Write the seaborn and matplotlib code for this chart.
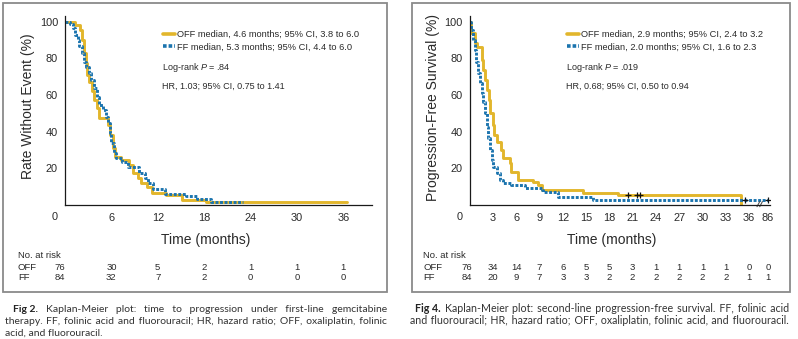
import matplotlib
matplotlib.use("Agg")
import matplotlib.pyplot as plt
import seaborn as sns
import pandas as pd
import numpy as np
from matplotlib.transforms import blended_transform_factory
from matplotlib.patches import Rectangle

# ---------------- data ----------------
# Fig 2 (left): time to progression, step curves (time in months, % without event)
L_off_t = [0, 1.35, 1.9, 2.2, 2.5, 2.7, 2.9, 3.15, 3.5, 3.8, 4.2, 4.45, 5.5, 5.8, 6.15, 6.5,
           7.25, 8.3, 8.75, 9.4, 9.85, 10.6, 11.3, 13.1, 15.2, 18.3, 36.5]
L_off_s = [100, 98.4, 95.6, 90, 83, 77.5, 71, 67.3, 62, 57, 53, 47.4, 43.5, 38, 31, 26,
           24.4, 21.6, 17, 14.5, 11.8, 9.5, 6.5, 5.2, 2.6, 1.3, 1.3]
L_ff_t = [0, 0.6, 1.0, 1.35, 1.65, 1.86, 2.2, 2.4, 2.7, 3.05, 3.4, 3.8, 4.2, 4.45, 4.9, 5.3,
          5.5, 5.85, 6.0, 6.3, 6.6, 7.4, 8.2, 9.6, 10.3, 10.7, 11.35, 12.9, 15.7, 17.1, 18.9, 23.0]
L_ff_s = [100, 99, 96.5, 93, 90, 87, 83, 78, 75.5, 72, 68, 64, 59, 54.6, 51.8, 48,
          44.6, 39, 33.6, 28, 25.5, 23.5, 20.7, 17, 14.5, 11.6, 8.5, 5.6, 4.7, 2.8, 1.2, 1.2]

# Fig 4 (right): second-line progression-free survival
R_off_t = [0, 0.25, 0.7, 1.0, 1.55, 1.7, 2.0, 2.3, 2.5, 2.7, 3.0, 3.15, 3.5, 4.1, 4.3, 5.2,
           5.4, 6.25, 8.2, 8.8, 9.3, 14.6, 19.1, 35.0, 35.0]
R_off_s = [100, 94, 88.5, 86.5, 79, 73.7, 68, 62.7, 57, 50, 43.5, 38, 34.4, 30, 25.3, 22.6,
           18, 13.4, 12.5, 10.7, 8, 6.5, 5.2, 0, 0]
R_ff_t = [0, 0.25, 0.45, 0.7, 0.9, 1.1, 1.3, 1.55, 1.75, 2.0, 2.2, 2.4, 2.6, 2.85, 3.05, 3.5,
          3.9, 4.3, 5.4, 7.1, 9.3, 9.5, 11.4, 15.9, 86]
R_ff_s = [100, 95.6, 90, 84.7, 78, 72, 66.5, 61, 56, 50, 42.6, 36.4, 30, 24.4, 20.7, 17,
          13.4, 11.6, 10.7, 8.9, 8, 7, 4.3, 2.2, 2.2]
R_cens_t = [20.4, 21.6, 22.0, 35.4, 86]
R_cens_s = [5.2, 5.2, 5.2, 2.2, 2.2]

L_ticks = [6, 12, 18, 24, 30, 36]
R_ticks = [3, 6, 9, 12, 15, 18, 21, 24, 27, 30, 33, 36, 86]
L_risk_t = [0, 6, 12, 18, 24, 30, 36]
L_risk_off = [76, 30, 5, 2, 1, 1, 1]
L_risk_ff = [84, 32, 7, 2, 0, 0, 0]
R_risk_t = [0, 3, 6, 9, 12, 15, 18, 21, 24, 27, 30, 33, 36, 86]
R_risk_off = [76, 34, 14, 7, 6, 5, 5, 3, 1, 1, 1, 1, 0, 0]
R_risk_ff = [84, 20, 9, 7, 3, 3, 2, 2, 2, 2, 2, 2, 1, 1]

L_labels = ["OFF median, 4.6 months; 95% CI, 3.8 to 6.0",
            "FF median, 5.3 months; 95% CI, 4.4 to 6.0"]
R_labels = ["OFF median, 2.9 months; 95% CI, 2.4 to 3.2",
            "FF median, 2.0 months; 95% CI, 1.6 to 2.3"]
L_stats = ["Log-rank $P$ = .84", "HR, 1.03; 95% CI, 0.75 to 1.41"]
R_stats = ["Log-rank $P$ = .019", "HR, 0.68; 95% CI, 0.50 to 0.94"]

# ---------------- style ----------------
sns.set_theme(style="white")
plt.rcParams["font.family"] = ["Liberation Sans", "DejaVu Sans"]
plt.rcParams["mathtext.fontset"] = "custom"
plt.rcParams["mathtext.rm"] = "Liberation Sans"
plt.rcParams["mathtext.it"] = "Liberation Sans:italic"
CAPFONT = ["Liberation Sans Narrow", "Lato", "Liberation Sans", "DejaVu Sans"]

GOLD = "#E2B62C"
BLUE = "#1B74AE"
TXT = "#2a2a2a"

W, H = 798, 339
fig = plt.figure(figsize=(W / 100, H / 100), dpi=100)


def fx(px):
    return px / W


def fy(py):
    return 1 - py / H


Y0, YTOP = 204.5, 16.0
PXY = (Y0 - YTOP)


def fwd(t):
    t = np.asarray(t, dtype=float)
    return np.where(t <= 36, t, 36 + (t - 36) * 0.048)


def inv(u):
    u = np.asarray(u, dtype=float)
    return np.where(u <= 36, u, 36 + (u - 36) / 0.048)


axL = fig.add_axes([fx(65.0), fy(Y0), (372 - 65.0) / W, PXY / H])
axR = fig.add_axes([fx(469.5), fy(Y0), (770 - 469.5) / W, PXY / H])
axR.set_xscale("function", functions=(fwd, inv))


def curve(ax, t, s, color, label, dotted):
    df = pd.DataFrame({"time": t, "surv": s})
    kw = dict(color=color, lw=2.1, label=label)
    if dotted:
        kw["linestyle"] = (0, (1.0, 0.55))
        kw["dash_capstyle"] = "butt"
    sns.lineplot(data=df, x="time", y="surv", drawstyle="steps-post",
                 estimator=None, sort=False, ax=ax, **kw)


curve(axL, L_off_t, L_off_s, GOLD, L_labels[0], False)
curve(axL, L_ff_t, L_ff_s, BLUE, L_labels[1], True)
curve(axR, R_off_t, R_off_s, GOLD, R_labels[0], False)
curve(axR, R_ff_t, R_ff_s, BLUE, R_labels[1], True)
sns.scatterplot(x=R_cens_t, y=R_cens_s, marker="+", color="#111111", s=24,
                linewidth=0.9, ax=axR, zorder=5, legend=False)

for ax in (axL, axR):
    ax.set_ylim(0, PXY / 1.825)
    for sp in ("top", "right"):
        ax.spines[sp].set_visible(False)
    for sp in ("left", "bottom"):
        ax.spines[sp].set_color("#1a1a1a")
        ax.spines[sp].set_linewidth(0.9)
    ax.set_yticks([20, 40, 60, 80, 100])
    ax.tick_params(axis="both", direction="out", length=3, width=0.8, color="#1a1a1a",
                   labelsize=7.9, labelcolor=TXT, pad=2)
    ax.tick_params(axis="x", pad=3)

axL.set_xlim(0, (372 - 65.0) / 7.73)
axL.set_xticks(L_ticks)
axL.set_xticklabels([str(v) for v in L_ticks])
axR.set_xlim(0, float(inv((770 - 469.5) / 7.77)))
axR.set_xticks(R_ticks)
axR.set_xticklabels([str(v) for v in R_ticks])
axR.minorticks_off()

# corner "0" labels
fig.text(fx(57.5), fy(217.5), "0", ha="right", va="center", fontsize=7.9, color=TXT)
fig.text(fx(462.5), fy(217.5), "0", ha="right", va="center", fontsize=7.9, color=TXT)

# axis break marks on right panel
for xb in (37.0, 37.35):
    xd = float(inv(xb))
    xd2 = float(inv(xb + 0.35))
    axR.plot([xd, xd2], [-1.2, 1.6], color="#555555", lw=0.8, clip_on=False)

# y labels / x labels
axL.set_ylabel("Rate Without Event (%)", fontsize=10, color=TXT)
axL.yaxis.set_label_coords((28 - 65.0) / (372 - 65.0), (Y0 - 106) / PXY)
axR.set_ylabel("Progression-Free Survival (%)", fontsize=10, color=TXT)
axR.yaxis.set_label_coords((433 - 469.5) / (770 - 469.5), (Y0 - 107.5) / PXY)
axL.set_xlabel("Time (months)", fontsize=10, color=TXT)
axL.xaxis.set_label_coords((206 - 65.0) / (372 - 65.0), (Y0 - 240) / PXY)
axR.set_xlabel("Time (months)", fontsize=10, color=TXT)
axR.xaxis.set_label_coords((611.5 - 469.5) / (770 - 469.5), (Y0 - 240) / PXY)
for ax in (axL, axR):
    ax.xaxis.label.set_va("center")
    ax.yaxis.label.set_va("center")

# legends + stats
for ax, x_leg, x_txt, stats in ((axL, 163, 162, L_stats), (axR, 567, 566, R_stats)):
    x0px = 65.0 if ax is axL else 469.5
    wpx = (372 - 65.0) if ax is axL else (770 - 469.5)
    leg = ax.legend(loc="upper left", bbox_to_anchor=((x_leg - x0px) / wpx, (Y0 - 30) / PXY),
                    frameon=False, fontsize=6.7, handlelength=1.3, handletextpad=0.25,
                    labelspacing=0.4, borderpad=0, borderaxespad=0)
    for t in leg.get_texts():
        t.set_color(TXT)
    for h in leg.legend_handles:
        h.set_linewidth(2.6)
    for s, ypx in zip(stats, (67, 86)):
        ax.text((x_txt - x0px) / wpx, (Y0 - ypx) / PXY, s, transform=ax.transAxes,
                fontsize=6.5, color=TXT, va="center", ha="left")

# risk tables
for ax, xl, rt, roff, rff, shift in ((axL, 18, L_risk_t, L_risk_off, L_risk_ff, -0.7),
                                      (axR, 423, R_risk_t, R_risk_off, R_risk_ff, -0.35)):
    tr = blended_transform_factory(ax.transData, fig.transFigure)
    fig.text(fx(xl), fy(256), "No. at risk", fontsize=6.8, color=TXT, va="center", ha="left")
    fig.text(fx(xl), fy(267), "OFF", fontsize=6.8, color=TXT, va="center", ha="left")
    fig.text(fx(xl), fy(278), "FF", fontsize=6.8, color=TXT, va="center", ha="left")
    for i, t in enumerate(rt):
        xt = t + shift if i == 0 else t
        ax.text(xt, fy(267), str(roff[i]), transform=tr, fontsize=6.8, color=TXT,
                ha="center", va="center", clip_on=False)
        ax.text(xt, fy(278), str(rff[i]), transform=tr, fontsize=6.8, color=TXT,
                ha="center", va="center", clip_on=False)

# panel frames
for x0, x1 in ((3, 387), (412, 790)):
    fig.add_artist(Rectangle((fx(x0), fy(292)), (x1 - x0) / W, (292 - 3) / H,
                             transform=fig.transFigure, fill=False,
                             edgecolor="#8a8a8a", lw=1.3))

# ---------------- captions (justified, one text per line part) ----------------
renderer = fig.canvas.get_renderer()
HAIR = "\u200a"


def measure(s, size, bold=False):
    t = fig.text(0, 0, s, fontsize=size, family=CAPFONT,
                 fontweight="bold" if bold else "normal")
    w = t.get_window_extent(renderer).width
    t.remove()
    return w


def caption(lines, x_right, size0):
    # lines: (bold_prefix, rest, x_left, baseline_px, justify)
    size = size0
    for _ in range(4):
        worst = 1.0
        for bp, rest, xl, yb, just in lines:
            nat = measure(rest, size) + (measure(bp, size, True) + measure("a a", size)
                                         - measure("aa", size) if bp else 0)
            if just:
                worst = min(worst, (x_right - xl) / (nat + 0.5 * len(rest.split(" "))))
        if worst >= 1.0:
            break
        size *= worst * 0.997
    sp = measure("a a", size) - measure("aa", size)
    hair = (measure("a" + HAIR * 20 + "a", size) - measure("aa", size)) / 20.0
    for bp, rest, xl, yb, just in lines:
        words = rest.split(" ")
        x = xl
        ngaps = len(words) - 1 + (1 if bp else 0)
        wb = measure(bp, size, True) if bp else 0.0
        wr = measure(rest, size)
        extra = (x_right - xl) - (wb + (sp if bp else 0) + wr) if just else 0.0
        per = extra / ngaps if ngaps else 0.0
        if bp:
            fig.text(fx(x), fy(yb), bp, fontsize=size, family=CAPFONT, color="#222222",
                     fontweight="bold", va="baseline", ha="left")
            x += wb + sp + per
        if just and hair > 0.2 and len(words) > 1:
            total = int(round(per * (len(words) - 1) / hair))
            n = len(words) - 1
            counts = [(total * (i + 1)) // n - (total * i) // n for i in range(n)]
            s = words[0]
            for w, c in zip(words[1:], counts):
                s += " " + HAIR * c + w
        else:
            s = rest
        fig.text(fx(x), fy(yb), s, fontsize=size, family=CAPFONT, color="#333333",
                 va="baseline", ha="left")


caption([
    ("Fig 2.", "Kaplan-Meier plot: time to progression under first-line gemcitabine", 13, 312.5, True),
    ("", "therapy. FF, folinic acid and fluorouracil; HR, hazard ratio; OFF, oxaliplatin, folinic", 5, 324.5, True),
    ("", "acid, and fluorouracil.", 5, 336.0, False),
], 387, 7.8)
caption([
    ("Fig 4.", "Kaplan-Meier plot: second-line progression-free survival. FF, folinic acid", 415, 312.5, True),
    ("", "and fluorouracil; HR, hazard ratio; OFF, oxaliplatin, folinic acid, and fluorouracil.", 410, 324.5, True),
], 789, 7.8)

fig.savefig("out.png", dpi=100)
